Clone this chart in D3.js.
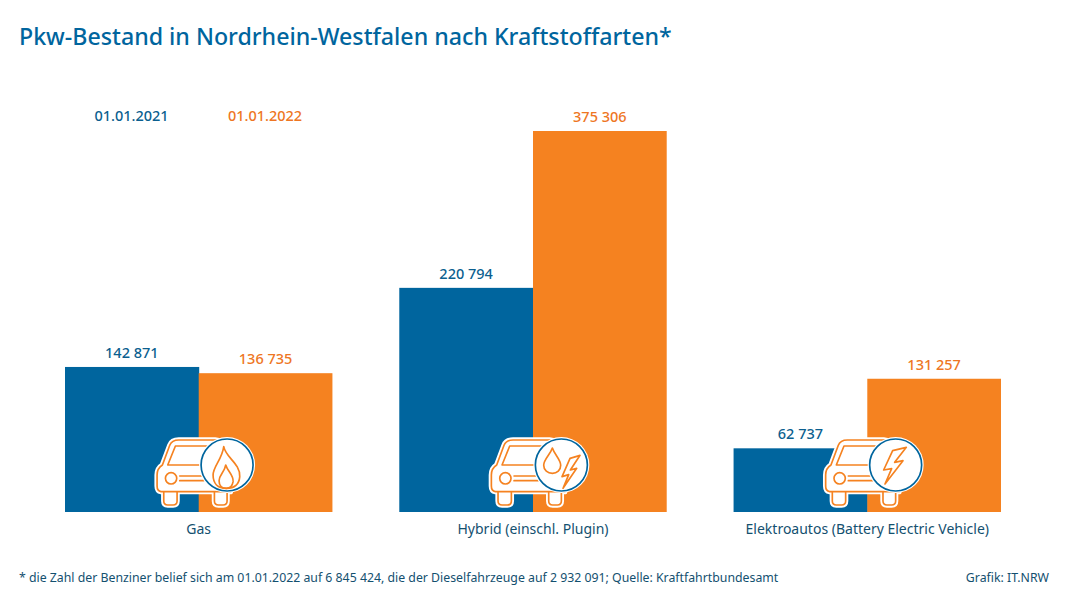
<!DOCTYPE html>
<html><head><meta charset="utf-8">
<script src="https://cdn.jsdelivr.net/npm/d3@7"></script>
<style>html,body{margin:0;background:#fff}svg{display:block}text{font-family:"Noto Sans",sans-serif}</style>
</head><body><svg id="c" width="1066" height="600"></svg>
<script>
const categories=["Gas","Hybrid (einschl. Plugin)","Elektroautos (Battery Electric Vehicle)"];
const seriesNames=["01.01.2021","01.01.2022"];
const values2021=[142871,220794,62737];
const values2022=[136735,375306,131257];
const icons=["flame","hybrid","bolt"];
const title="Pkw-Bestand in Nordrhein-Westfalen nach Kraftstoffarten*";
const footnote="* die Zahl der Benziner belief sich am 01.01.2022 auf 6 845 424, die der Dieselfahrzeuge auf 2 932 091; Quelle: Kraftfahrtbundesamt";
const credit="Grafik: IT.NRW";
const BLUE="#00659e",ORANGE="#f58220",TXTO="#ee7623",TXTB="#0b5f8f";
const svg=d3.select("#c");
const x=d3.scaleBand().domain(categories).range([65,1001]).paddingInner(0.2);
const x1=d3.scaleBand().domain([0,1]).range([0,x.bandwidth()]);
const y=d3.scaleLinear().domain([0,375306]).range([512,131]);
const fmt=v=>String(v).replace(/\B(?=(\d{3})+$)/g," ");
svg.append("text").attr("x",19).attr("y",45).attr("font-size",23.2).attr("font-weight",500).attr("fill",BLUE).text(title);
[[values2021,BLUE,TXTB],[values2022,ORANGE,TXTO]].forEach(([vals,col,tc],s)=>{
  const g=svg.append("g");
  g.selectAll("rect").data(vals).join("rect")
    .attr("x",(d,i)=>x(categories[i])+x1(s)).attr("width",x1.bandwidth()+(s==0?0.5:0))
    .attr("y",d=>y(d)).attr("height",d=>y(0)-y(d)).attr("fill",col);
  g.selectAll("text").data(vals).join("text")
    .attr("x",(d,i)=>x(categories[i])+x1(s)+x1.bandwidth()/2).attr("y",d=>y(d)-9)
    .attr("text-anchor","middle").attr("font-size",14.5).attr("font-weight",500).attr("fill",tc).text(fmt);
});
svg.selectAll(".cat").data(categories).join("text").attr("class","cat")
  .attr("x",d=>x(d)+x.bandwidth()/2).attr("y",534).attr("text-anchor","middle")
  .attr("font-size",14).attr("fill","#13506f").text(d=>d);
svg.selectAll(".leg").data(seriesNames).join("text").attr("class","leg")
  .attr("x",(d,i)=>i?265:131.5).attr("y",121).attr("text-anchor","middle").attr("font-size",14.5).attr("font-weight",500)
  .attr("fill",(d,i)=>i?TXTO:TXTB).text(d=>d);
svg.append("text").attr("x",19).attr("y",582).attr("font-size",12.3).attr("fill","#13506f").text(footnote);
svg.append("text").attr("x",1049).attr("y",582).attr("text-anchor","end").attr("font-size",12.3).attr("fill","#13506f").text(credit);

const body="M62 215Q50 213 50 198L50 165Q50 145 66 135L88 76Q94 60 115 60L225 60Q245 60 255 90L270 135L270 215Z";
const tyres=["M70 215L70 243Q70 255 82 255L98 255Q110 255 110 243L110 215","M222 215L222 243Q222 255 234 255L248 255Q260 255 260 243L260 215"];
const windowP="M82 135L105 78L225 78L225 135Z";
const glyphs={
 flame:["M250 80C255 112 300 130 298 170C296 195 280 205 258 205C232 205 218 190 218 165C218 140 245 118 250 80Z","M256 135C262 155 280 165 278 185C276 198 268 205 258 205C246 205 236 198 236 182C236 165 252 158 256 135Z"],
 hybrid:["M233 84C240 105 258 118 258 136C258 151 247 160 233 160C219 160 207 151 207 136C207 118 226 105 233 84Z","M316 106L286 115L262 170L282 164L265 205L306 145L287 150Z"],
 bolt:["M292 82L251 92L224 150L248 146L228 192L282 122L257 127Z"]};
const icon=svg.selectAll(".icon").data(categories).join("g").attr("class","icon")
  .attr("transform",d=>`translate(${x(d)+x.bandwidth()/2-58.3},${y(0)-92}) scale(${1/3})`)
  .attr("fill","none").attr("stroke-linejoin","round").attr("stroke-linecap","round");
icon.each(function(d,i){
  const g=d3.select(this);
  const carPaths=[...tyres,body];
  carPaths.forEach(p=>g.append("path").attr("d",p).attr("fill","#fff").attr("stroke","#fff").attr("stroke-width",16));
  tyres.forEach(p=>g.append("path").attr("d",p).attr("fill","#fff").attr("stroke",ORANGE).attr("stroke-width",5));
  g.append("path").attr("d",body).attr("fill","#fff").attr("stroke",ORANGE).attr("stroke-width",5);
  g.append("path").attr("d",windowP).attr("stroke",ORANGE).attr("stroke-width",5);
  g.append("circle").attr("cx",92).attr("cy",175).attr("r",17).attr("stroke",ORANGE).attr("stroke-width",5);
  [168,182].forEach(v=>g.append("line").attr("x1",118).attr("x2",190).attr("y1",v).attr("y2",v).attr("stroke",ORANGE).attr("stroke-width",5));
  g.append("circle").attr("cx",260).attr("cy",135).attr("r",84).attr("fill","#fff");
  g.append("circle").attr("cx",260).attr("cy",135).attr("r",78).attr("fill","#fff").attr("stroke",BLUE).attr("stroke-width",5);
  glyphs[icons[i]].forEach(p=>g.append("path").attr("d",p).attr("stroke",ORANGE).attr("stroke-width",5));
});
</script></body></html>
